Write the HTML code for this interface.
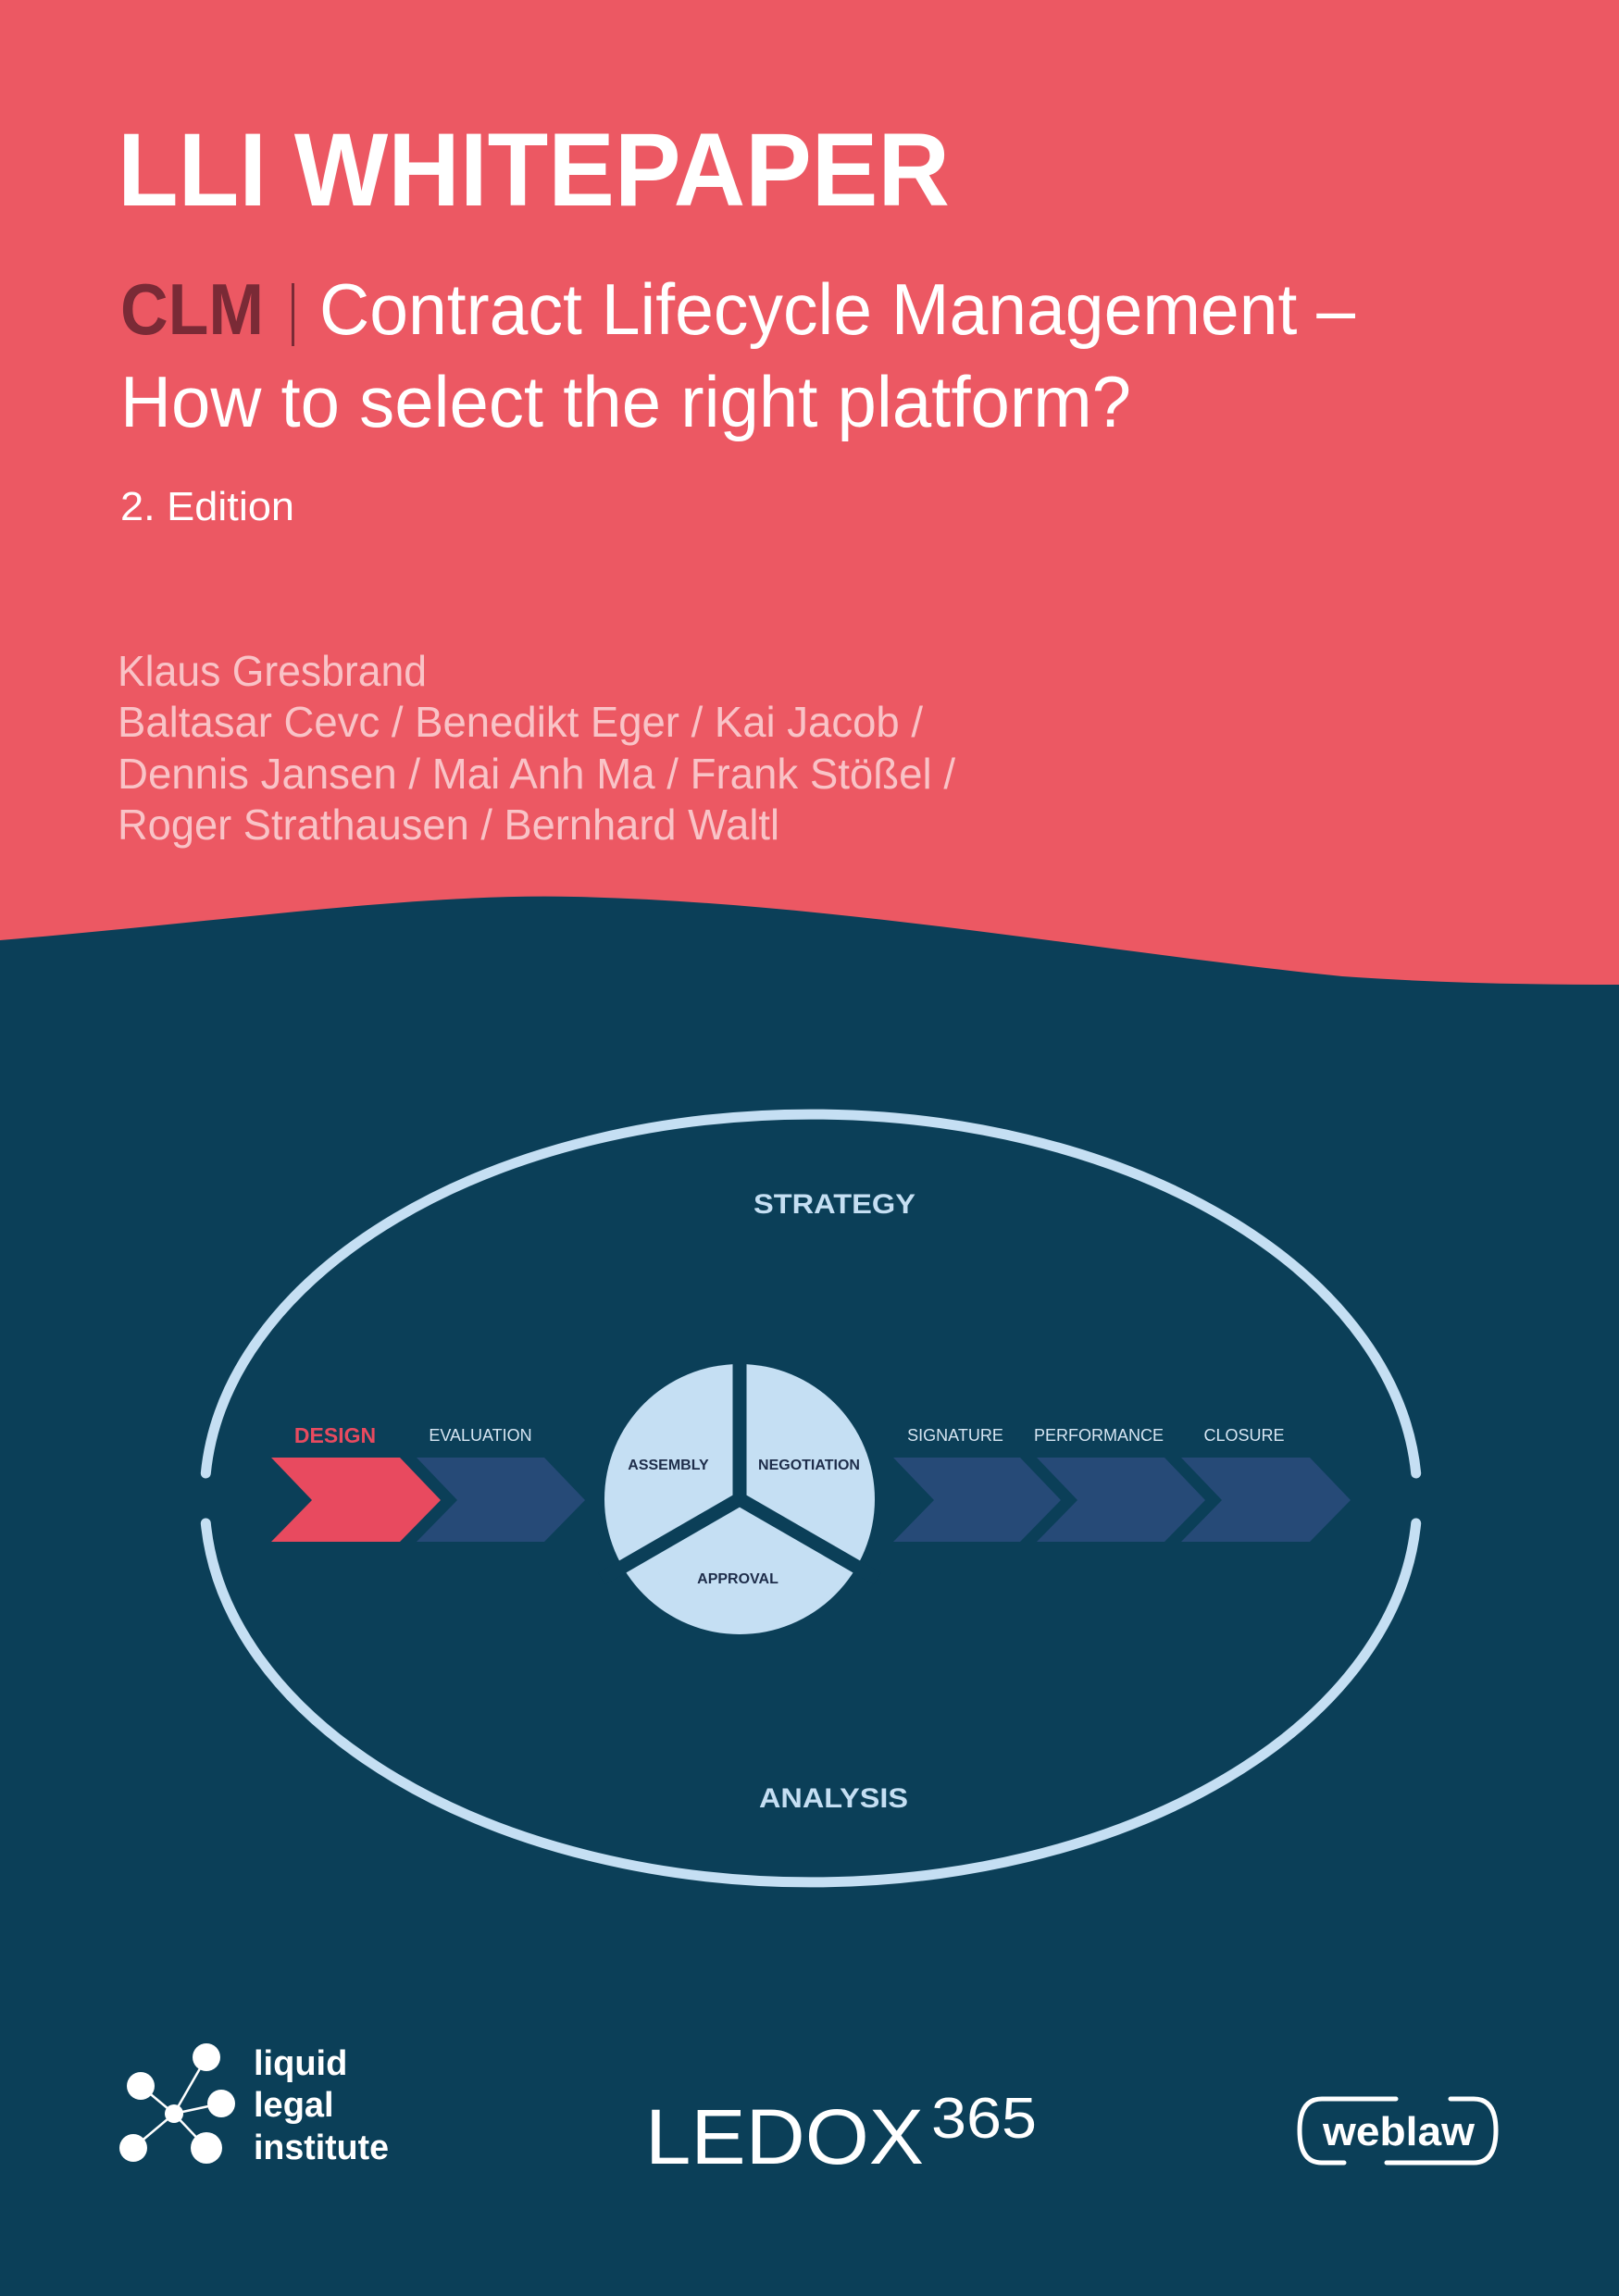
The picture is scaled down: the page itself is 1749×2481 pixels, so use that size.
<!DOCTYPE html>
<html><head><meta charset="utf-8"><style>html,body{margin:0;padding:0;background:#0B3F58}svg{display:block}</style></head>
<body>
<svg width="1749" height="2481" viewBox="0 0 1749 2481" xmlns="http://www.w3.org/2000/svg" font-family="'Liberation Sans', sans-serif">
<rect width="1749" height="2481" fill="#EC5863"/>
<path d="M0 1016 C250 995,450 965,620 969 C900 975,1200 1030,1450 1055 C1550 1062,1650 1064,1749 1064 V2481 H0Z" fill="#0B3F58"/>
<text x="127" y="222" font-size="112" font-weight="bold" fill="#fff" textLength="899" lengthAdjust="spacingAndGlyphs">LLI WHITEPAPER</text>
<text x="130" y="361" font-size="78" font-weight="bold" fill="#7A2A36" textLength="155" lengthAdjust="spacingAndGlyphs">CLM</text>
<rect x="315" y="306" width="3" height="68" fill="#7A2A36"/>
<text x="345" y="361" font-size="78" fill="#fff" textLength="1119" lengthAdjust="spacingAndGlyphs">Contract Lifecycle Management –</text>
<text x="130" y="461" font-size="78" fill="#fff" textLength="1092" lengthAdjust="spacingAndGlyphs">How to select the right platform?</text>
<text x="130" y="562" font-size="44" fill="#fff" textLength="188" lengthAdjust="spacingAndGlyphs">2. Edition</text>
<g font-size="46" fill="#F9C3C7">
<text x="127" y="741" textLength="334" lengthAdjust="spacingAndGlyphs">Klaus Gresbrand</text>
<text x="127" y="796" textLength="870" lengthAdjust="spacingAndGlyphs">Baltasar Cevc / Benedikt Eger / Kai Jacob /</text>
<text x="127" y="852" textLength="905" lengthAdjust="spacingAndGlyphs">Dennis Jansen / Mai Anh Ma / Frank Stößel /</text>
<text x="127" y="907" textLength="715" lengthAdjust="spacingAndGlyphs">Roger Strathausen / Bernhard Waltl</text>
</g>
<g fill="none" stroke="#C5DFF3" stroke-width="11" stroke-linecap="round">
<path d="M222.3 1592 A655 414 0 0 1 1529.7 1592"/>
<path d="M222.3 1646 A655 414 0 0 0 1529.7 1646"/>
</g>
<text x="814" y="1311" font-size="30" font-weight="bold" fill="#C5DFF3" textLength="175" lengthAdjust="spacingAndGlyphs">STRATEGY</text>
<text x="820" y="1953" font-size="30" font-weight="bold" fill="#C5DFF3" textLength="161" lengthAdjust="spacingAndGlyphs">ANALYSIS</text>
<polygon points="293,1575 432,1575 476,1621 432,1666 293,1666 337,1621" fill="#E84A5F"/>
<polygon points="450,1575 588,1575 632,1621 588,1666 450,1666 494,1621" fill="#264A77"/>
<polygon points="965,1575 1102,1575 1146,1621 1102,1666 965,1666 1009,1621" fill="#264A77"/>
<polygon points="1120,1575 1258,1575 1302,1621 1258,1666 1120,1666 1164,1621" fill="#264A77"/>
<polygon points="1276,1575 1415,1575 1459,1621 1415,1666 1276,1666 1320,1621" fill="#264A77"/>
<text x="362" y="1559" font-size="23" font-weight="bold" fill="#E84A5F" text-anchor="middle">DESIGN</text>
<g font-size="18" fill="#D6E6F3" text-anchor="middle">
<text x="519" y="1557">EVALUATION</text>
<text x="1032" y="1557">SIGNATURE</text>
<text x="1187" y="1557">PERFORMANCE</text>
<text x="1344" y="1557">CLOSURE</text>
</g>
<circle cx="799" cy="1620" r="146" fill="#C5DFF3"/>
<g stroke="#0B3F58" stroke-width="15">
<line x1="799" y1="1460" x2="799" y2="1620"/>
<line x1="799" y1="1620" x2="650" y2="1706"/>
<line x1="799" y1="1620" x2="948" y2="1706"/>
</g>
<g font-size="16" font-weight="bold" fill="#1E2D4A" text-anchor="middle">
<text x="722" y="1588">ASSEMBLY</text>
<text x="874" y="1588">NEGOTIATION</text>
<text x="797" y="1711">APPROVAL</text>
</g>
<g stroke="#fff" stroke-width="2.5">
<line x1="188" y1="2284" x2="223" y2="2223"/><line x1="188" y1="2284" x2="152" y2="2254"/>
<line x1="188" y1="2284" x2="239" y2="2273"/><line x1="188" y1="2284" x2="144" y2="2321"/>
<line x1="188" y1="2284" x2="223" y2="2321"/>
</g>
<g fill="#fff">
<circle cx="223" cy="2223" r="15"/><circle cx="152" cy="2254" r="15"/><circle cx="239" cy="2273" r="15"/>
<circle cx="188" cy="2284" r="10"/><circle cx="144" cy="2321" r="15"/><circle cx="223" cy="2321" r="17"/>
</g>
<g font-size="38" font-weight="bold" fill="#fff">
<text x="274" y="2242">liquid</text>
<text x="274" y="2287">legal</text>
<text x="274" y="2333" textLength="146" lengthAdjust="spacingAndGlyphs">institute</text>
</g>
<text x="697" y="2338" font-size="84" fill="#fff" textLength="301" lengthAdjust="spacingAndGlyphs">LEDOX</text>
<text x="1006" y="2310" font-size="62" fill="#fff" textLength="114" lengthAdjust="spacingAndGlyphs">365</text>
<path d="M1508 2268 H1428 Q1404 2268 1404 2302 Q1404 2337 1428 2337 H1452" fill="none" stroke="#fff" stroke-width="5" stroke-linecap="round"/>
<path d="M1567 2268 H1592 Q1616 2268 1616 2302 Q1616 2337 1592 2337 H1498" fill="none" stroke="#fff" stroke-width="5" stroke-linecap="round"/>
<text x="1511" y="2318" font-size="44" font-weight="bold" fill="#fff" text-anchor="middle" textLength="164" lengthAdjust="spacingAndGlyphs">weblaw</text>
</svg>
</body></html>
